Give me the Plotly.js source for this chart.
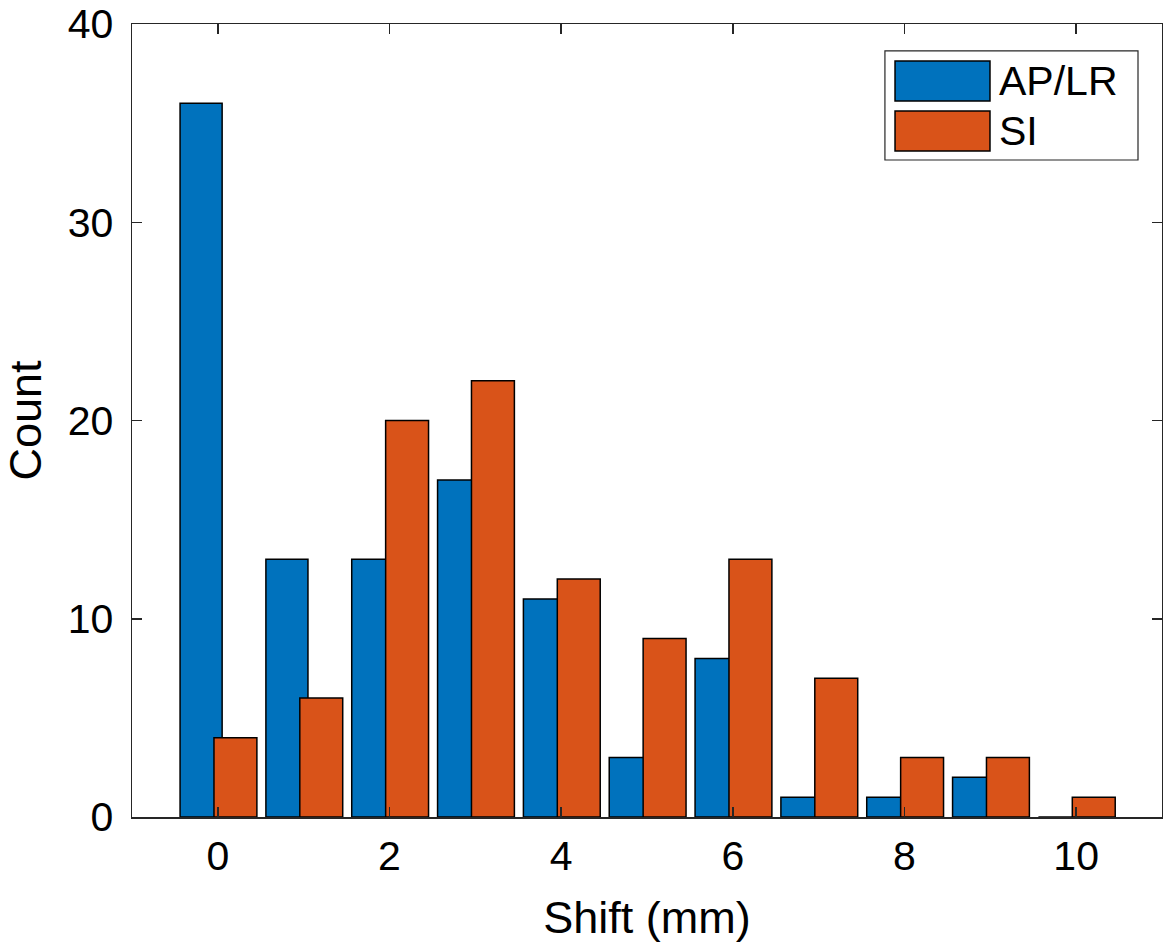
<!DOCTYPE html>
<html>
<head>
<meta charset="utf-8">
<script src="https://cdn.plot.ly/plotly-3.0.1.min.js"></script>
<style>html,body{margin:0;padding:0;background:#fff;}#chart{width:1163px;height:950px;}</style>
</head>
<body>
<div id="chart"></div>
<script>
// Data
const shift = [0, 1, 2, 3, 4, 5, 6, 7, 8, 9, 10];
const apLR = [36, 13, 13, 17, 11, 3, 8, 1, 1, 2, 0];
const si   = [4, 6, 20, 22, 12, 9, 13, 7, 3, 3, 1];
const seriesNames = ['AP/LR', 'SI'];
const xTicks = [0, 2, 4, 6, 8, 10];
const yTicks = [0, 10, 20, 30, 40];

const BLUE = '#0072BD', ORANGE = '#D95319', AX = '#262626';
const FONT = 'Liberation Sans, Arial, Helvetica, sans-serif';

const traces = [
  {type: 'bar', x: shift, y: apLR, name: seriesNames[0], offset: -0.44, width: 0.49,
   marker: {color: BLUE, line: {color: '#000', width: 1.5}}, showlegend: false},
  {type: 'bar', x: shift, y: si, name: seriesNames[1], offset: -0.045, width: 0.5,
   marker: {color: ORANGE, line: {color: '#000', width: 1.5}}, showlegend: false}
];

// Custom MATLAB-style legend (paper coordinates)
const shapes = [
  {type: 'rect', xref: 'paper', yref: 'paper', x0: 0.731, x1: 0.9767, y0: 0.8285, y1: 0.966,
   line: {color: AX, width: 1.2}, fillcolor: '#fff', layer: 'above'},
  {type: 'rect', xref: 'paper', yref: 'paper', x0: 0.7408, x1: 0.8330, y0: 0.9029, y1: 0.9533,
   line: {color: '#000', width: 1.5}, fillcolor: BLUE, layer: 'above'},
  {type: 'rect', xref: 'paper', yref: 'paper', x0: 0.7408, x1: 0.8330, y0: 0.8398, y1: 0.8903,
   line: {color: '#000', width: 1.5}, fillcolor: ORANGE, layer: 'above'}
];
const annotations = [
  {xref: 'paper', yref: 'paper', x: 0.8398, y: 0.928, xanchor: 'left', yanchor: 'middle',
   text: seriesNames[0], showarrow: false, font: {family: FONT, size: 41, color: '#000'}},
  {xref: 'paper', yref: 'paper', x: 0.8398, y: 0.865, xanchor: 'left', yanchor: 'middle',
   text: seriesNames[1], showarrow: false, font: {family: FONT, size: 41, color: '#000'}}
];

const layout = {
  width: 1163, height: 950,
  margin: {l: 132, r: 1, t: 24, b: 133, pad: 0},
  paper_bgcolor: '#fff', plot_bgcolor: '#fff',
  barmode: 'overlay',
  font: {family: FONT, size: 40, color: AX},
  xaxis: {
    range: [-1, 11], tickvals: xTicks, ticktext: xTicks.map(String),
    ticks: 'inside', ticklen: 10, tickwidth: 1.5, tickcolor: AX,
    showline: true, linecolor: AX, linewidth: 1.5, mirror: 'allticks',
    showgrid: false, zeroline: false, ticklabelstandoff: 2,
    tickfont: {family: FONT, size: 41, color: '#000'},
    title: {text: 'Shift (mm)', font: {family: FONT, size: 45, color: '#000'}, standoff: 24}
  },
  yaxis: {
    range: [0, 40], tickvals: yTicks, ticktext: yTicks.map(String),
    ticks: 'inside', ticklen: 10, tickwidth: 1.5, tickcolor: AX,
    showline: true, linecolor: AX, linewidth: 1.5, mirror: 'allticks',
    showgrid: false, zeroline: false, ticklabelstandoff: 9,
    tickfont: {family: FONT, size: 41, color: '#000'},
    title: {text: 'Count', font: {family: FONT, size: 45, color: '#000'}, standoff: 14}
  },
  shapes: shapes,
  annotations: annotations
};

Plotly.newPlot('chart', traces, layout, {displayModeBar: false, staticPlot: true});
</script>
</body>
</html>
